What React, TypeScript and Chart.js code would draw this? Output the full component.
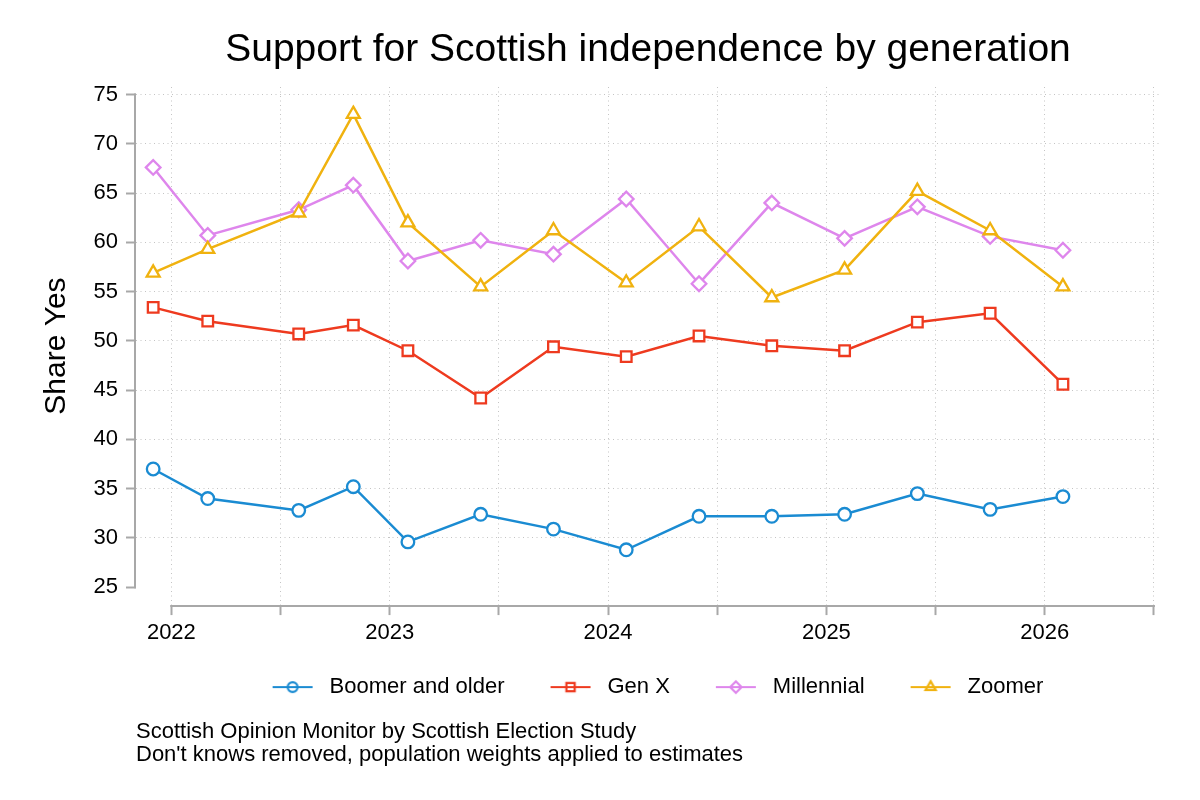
import { useEffect, useRef } from "react";
import { Chart, registerables } from "chart.js";
import { drawPoint } from "chart.js/helpers";

Chart.register(...registerables);

// survey waves (year-month of fieldwork)
const waveMonths = [
  "2021-12", "2022-03", "2022-08", "2022-11", "2023-02", "2023-06", "2023-10",
  "2024-02", "2024-06", "2024-10", "2025-02", "2025-06", "2025-10", "2026-02",
];

// share Yes (%) by generation
const boomer = [37.0, 34.0, 32.8, 35.2, 29.6, 32.4, 30.9, 28.8, 32.2, 32.2, 32.4, 34.5, 32.9, 34.2];
const genX = [53.4, 52.0, 50.7, 51.6, 49.0, 44.2, 49.4, 48.4, 50.5, 49.5, 49.0, 51.9, 52.8, 45.6];
const millennial = [67.6, 60.7, 63.3, 65.8, 58.1, 60.2, 58.8, 64.4, 55.8, 64.0, 60.4, 63.6, 60.6, 59.2];
const zoomer = [56.9, 59.3, 63.0, 73.0, 62.0, 55.5, 61.2, 55.9, 61.6, 54.4, 57.2, 65.2, 61.2, 55.5];

const xTicks = [2022, 2022.5, 2023, 2023.5, 2024, 2024.5, 2025, 2025.5, 2026, 2026.5];
const yTicks = [25, 30, 35, 40, 45, 50, 55, 60, 65, 70, 75];

const titleText = "Support for Scottish independence by generation";
const footerLines = [
  "Scottish Opinion Monitor by Scottish Election Study",
  "Don't knows removed, population weights applied to estimates",
];

const gridGray = "#c4c4c4";
const axisGray = "#a8a8a8";

const series = [
  { label: "Boomer and older", values: boomer, color: "#1a8bd2", style: "circle", radius: 6.3 },
  { label: "Gen X", values: genX, color: "#ee3a1f", style: "rect", radius: 7.5 },
  { label: "Millennial", values: millennial, color: "#de86ec", style: "rectRot", radius: 7.3 },
  { label: "Zoomer", values: zoomer, color: "#f0b20f", style: "triangle", radius: 7.5 },
];

const toYear = (s: string) => {
  const [y, m] = s.split("-").map(Number);
  return y + (m - 1) / 12;
};

// line-with-marker swatch for the legend
function legendIcon(s: (typeof series)[number]) {
  const c = document.createElement("canvas");
  c.width = 66;
  c.height = 20;
  const g = c.getContext("2d")!;
  g.strokeStyle = s.color;
  g.fillStyle = "rgba(0,0,0,0)";
  g.lineWidth = 2.2;
  g.beginPath();
  g.moveTo(20, 10);
  g.lineTo(60, 10);
  g.stroke();
  drawPoint(g, { pointStyle: s.style as any, radius: s.radius * 0.78, borderWidth: 2.2, rotation: 0 }, 40, 10);
  return c;
}

const axisLines = {
  id: "axisLines",
  beforeDatasetsDraw(chart: Chart) {
    const { ctx, chartArea, scales } = chart;
    const x = scales.x;
    const y = scales.y;
    ctx.save();
    ctx.strokeStyle = axisGray;
    ctx.lineWidth = 2;
    ctx.beginPath();
    ctx.moveTo(chartArea.left - 1, y.getPixelForValue(yTicks[0]) + 1);
    ctx.lineTo(chartArea.left - 1, y.getPixelForValue(yTicks[yTicks.length - 1]) - 1);
    ctx.moveTo(x.getPixelForValue(xTicks[0]) - 1, chartArea.bottom + 1);
    ctx.lineTo(x.getPixelForValue(xTicks[xTicks.length - 1]) + 1, chartArea.bottom + 1);
    ctx.stroke();
    ctx.restore();
  },
};

export default function App() {
  const canvasRef = useRef<HTMLCanvasElement>(null);
  const chartRef = useRef<Chart | null>(null);

  useEffect(() => {
    document.body.style.margin = "0";
    if (!canvasRef.current) return;
    if (chartRef.current) chartRef.current.destroy();
    const ctx = canvasRef.current.getContext("2d");
    if (!ctx) return;

    Chart.defaults.font.family = "'Liberation Sans', Arial, sans-serif";
    Chart.defaults.color = "#000";

    // Zoomer drawn on top, legend reversed back to the original order
    const drawOrder = [...series].reverse();
    const icons = drawOrder.map((s) => legendIcon(s));
    const xs = waveMonths.map(toYear);

    chartRef.current = new Chart(ctx, {
      type: "line",
      data: {
        datasets: drawOrder.map((s) => ({
          label: s.label,
          data: s.values.map((v, i) => ({ x: xs[i], y: v })),
          borderColor: s.color,
          backgroundColor: "#fff",
          borderWidth: 2.5,
          pointStyle: s.style as any,
          pointRadius: s.radius,
          pointBorderWidth: 2.3,
          pointBackgroundColor: "#fff",
          pointBorderColor: s.color,
          tension: 0,
        })),
      },
      options: {
        responsive: true,
        maintainAspectRatio: false,
        animation: false,
        layout: { padding: { left: 0, right: 40, top: 0, bottom: 0 } },
        plugins: {
          title: {
            display: true,
            text: titleText,
            fullSize: false,
            color: "#000",
            font: { size: 39, weight: "normal" },
            padding: { top: 26.6, bottom: 13.6 },
          },
          subtitle: {
            display: true,
            position: "bottom",
            align: "start",
            fullSize: false,
            text: footerLines,
            color: "#000",
            font: { size: 22, weight: "normal", lineHeight: 1.03 },
            padding: { top: 12.6, bottom: 34 },
          },
          legend: {
            position: "bottom",
            fullSize: false,
            reverse: true,
            labels: {
              usePointStyle: true,
              pointStyleWidth: 66,
              padding: 26,
              color: "#000",
              font: { size: 22 },
              generateLabels: (chart: Chart) =>
                Chart.defaults.plugins.legend.labels
                  .generateLabels(chart)
                  .map((item: any) => ({ ...item, pointStyle: icons[item.datasetIndex] })),
            },
          },
          tooltip: { enabled: false },
        },
        scales: {
          x: {
            type: "linear",
            min: 2021.838,
            max: 2026.528,
            afterBuildTicks: (scale: any) => {
              scale.ticks = xTicks.map((v) => ({ value: v }));
            },
            ticks: {
              autoSkip: false,
              maxRotation: 0,
              padding: 4.3,
              color: "#000",
              font: { size: 22 },
              callback: (v: any) => (Number.isInteger(v) ? String(v) : ""),
            },
            border: { display: false, dash: [1, 3.5] },
            grid: {
              color: gridGray,
              lineWidth: 1,
              tickLength: 10,
              tickWidth: 2,
              tickColor: axisGray,
              tickBorderDash: [],
            },
          },
          y: {
            type: "linear",
            min: 23.19,
            max: 75.76,
            afterBuildTicks: (scale: any) => {
              scale.ticks = yTicks.map((v) => ({ value: v }));
            },
            afterFit: (scale: any) => {
              scale.width = 136;
            },
            title: {
              display: true,
              text: "Share Yes",
              color: "#000",
              font: { size: 30 },
              padding: { top: 39, bottom: 0 },
            },
            ticks: {
              padding: 8,
              color: "#000",
              font: { size: 22 },
            },
            border: { display: false, dash: [1, 3.5] },
            grid: {
              color: (c: any) => (c.tick && c.tick.value === yTicks[0] ? "rgba(0,0,0,0)" : gridGray),
              lineWidth: 1,
              tickLength: 10,
              tickWidth: 2,
              tickColor: axisGray,
              tickBorderDash: [],
            },
          },
        },
      },
      plugins: [axisLines],
    });

    return () => {
      if (chartRef.current) {
        chartRef.current.destroy();
        chartRef.current = null;
      }
    };
  }, []);

  return (
    <div style={{ width: 1200, height: 800 }}>
      <canvas ref={canvasRef} />
    </div>
  );
}
